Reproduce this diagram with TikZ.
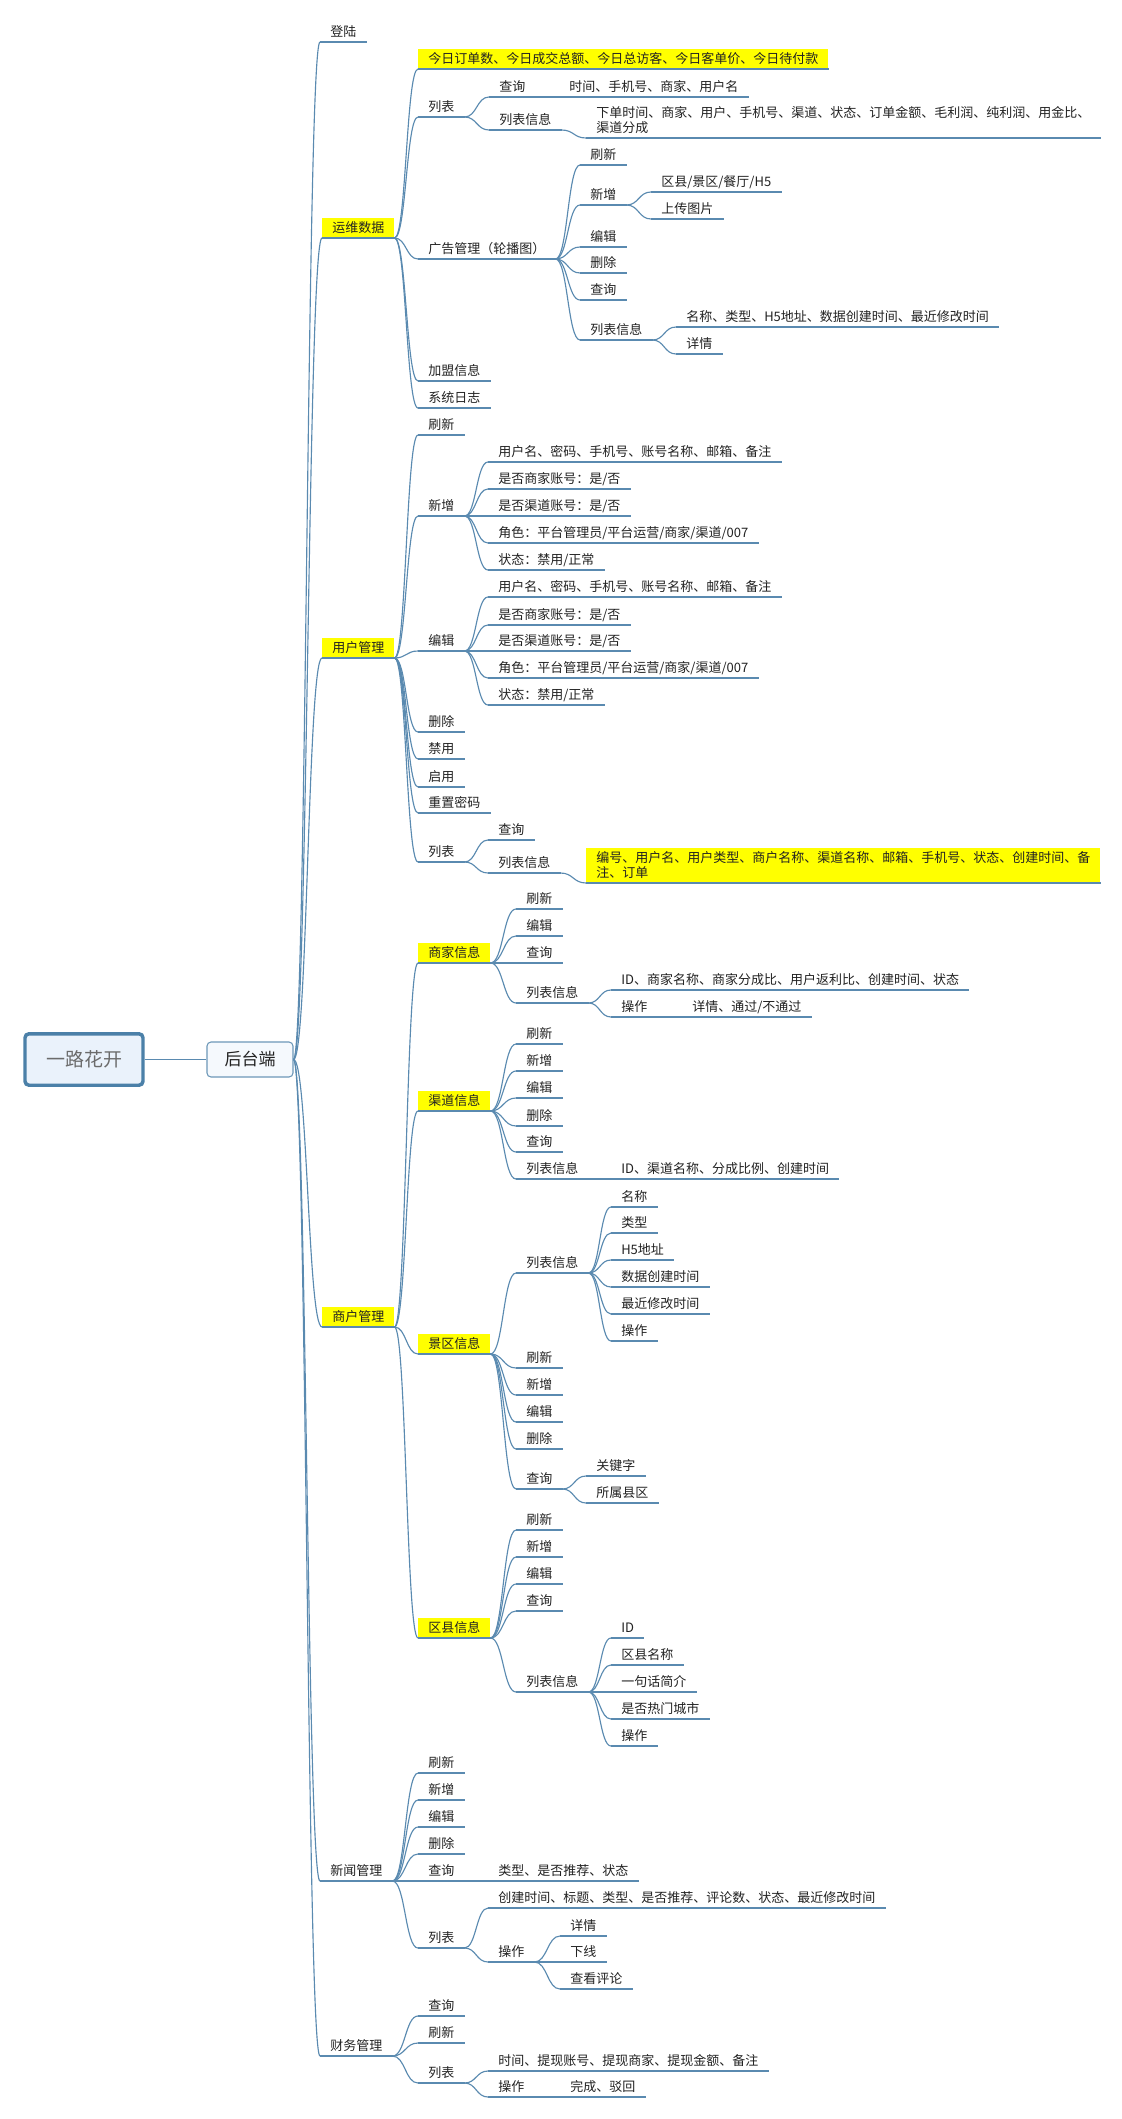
\documentclass[tikz,border=0pt]{standalone}
\usepackage{fontspec}
\newfontfamily\cjkf{Noto Sans CJK SC}
\usetikzlibrary{calc}
\definecolor{lnc}{HTML}{5A8AB0}
\definecolor{rootb}{HTML}{4B80A8}
\definecolor{rootf}{HTML}{EAF2FB}
\definecolor{hb}{HTML}{6D98B8}
\definecolor{hf}{HTML}{F5F9FD}
\definecolor{txc}{HTML}{222222}
\definecolor{rtx}{HTML}{6B6B6B}
\definecolor{ylw}{HTML}{FFFF00}
\tikzset{
  ln/.style={draw=lnc, line width=0.85pt},
  lf/.style={anchor=south west, inner xsep=7.5pt, inner ysep=3pt, text height=7.6pt, text depth=1pt,
    font=\cjkf\fontsize{9.75pt}{11.25pt}\selectfont, text=txc, align=left},
  ml/.style={lf, text height=18.85pt},
  yb/.style={lf, fill=ylw},
  rootn/.style={draw=rootb, line width=2.6pt, fill=rootf, rounded corners=3pt,
    minimum width=88.5pt, minimum height=38.6pt, inner sep=0pt,
    font=\cjkf\fontsize{14.25pt}{16pt}\selectfont, text=rtx},
  hnode/.style={draw=hb, line width=0.8pt, fill=hf, rounded corners=3pt,
    minimum width=64.5pt, minimum height=26.25pt, inner sep=0pt,
    font=\cjkf\fontsize{12.75pt}{14pt}\selectfont, text=txc}
}
\newcommand\mmconn[2]{\draw[ln] let \p1=(#1.south east), \p2=(#2.south west), \p3=($(\p1)!0.5!(\p2)$) in (\p1) .. controls (\x3,\y1) and (\x3,\y2) .. (\p2);}
\newcommand\mmconnE[2]{\draw[ln] let \p1=(#1.east), \p2=(#2.south west), \p3=($(\p1)!0.5!(\p2)$) in (\p1) .. controls (\x3,\y1) and (\x3,\y2) .. (\p2);}
\begin{document}
\begin{tikzpicture}[x=0.75pt,y=-0.75pt]
\useasboundingbox (0,0) rectangle (1121,2119);
\fill[white] (0,0) rectangle (1121,2119);
% root and centre
\node[rootn] (r) at (84,1059.5) {一路花开};
\node[hnode] (ht) at (250,1059.5) {后台端};
\draw[ln] (r.east) -- (ht.west);
% level 1
\node[lf] (dl) at (320,42) {登陆};
\node[yb] (yw) at (322,238) {运维数据};
\node[yb] (yh) at (322,658) {用户管理};
\node[yb] (sh) at (322,1327) {商户管理};
\node[lf] (xw) at (320,1881) {新闻管理};
\node[lf] (cw) at (320,2056) {财务管理};
% 运维数据
\node[yb] (a1) at (418,69) {今日订单数、今日成交总额、今日总访客、今日客单价、今日待付款};
\node[lf] (a2) at (418,117) {列表};
\node[lf] (a21) at (489,97) {查询};
\node[lf] (a211) at (559,97) {时间、手机号、商家、用户名};
\node[lf] (a22) at (489,130) {列表信息};
\node[ml] (a221) at (586,138) {下单时间、商家、用户、手机号、渠道、状态、订单金额、毛利润、纯利润、用金比、\\渠道分成};
\node[lf] (a3) at (418,259) {广告管理（轮播图）};
\node[lf] (a31) at (580,165) {刷新};
\node[lf] (a32) at (580,205) {新增};
\node[lf] (a321) at (651,192) {区县/景区/餐厅/H5};
\node[lf] (a322) at (651,219) {上传图片};
\node[lf] (a33) at (580,247) {编辑};
\node[lf] (a34) at (580,273) {删除};
\node[lf] (a35) at (580,300) {查询};
\node[lf] (a36) at (580,340) {列表信息};
\node[lf] (a361) at (676,327) {名称、类型、H5地址、数据创建时间、最近修改时间};
\node[lf] (a362) at (676,354) {详情};
\node[lf] (a4) at (418,381) {加盟信息};
\node[lf] (a5) at (418,408) {系统日志};
% 用户管理
\node[lf] (b1) at (418,435) {刷新};
\node[lf] (b2) at (418,516) {新增};
\node[lf] (b21) at (488,462) {用户名、密码、手机号、账号名称、邮箱、备注};
\node[lf] (b22) at (488,489) {是否商家账号：是/否};
\node[lf] (b23) at (488,516) {是否渠道账号：是/否};
\node[lf] (b24) at (488,543) {角色：平台管理员/平台运营/商家/渠道/007};
\node[lf] (b25) at (488,570) {状态：禁用/正常};
\node[lf] (b3) at (418,651) {编辑};
\node[lf] (b31) at (488,597) {用户名、密码、手机号、账号名称、邮箱、备注};
\node[lf] (b32) at (488,625) {是否商家账号：是/否};
\node[lf] (b33) at (488,651) {是否渠道账号：是/否};
\node[lf] (b34) at (488,678) {角色：平台管理员/平台运营/商家/渠道/007};
\node[lf] (b35) at (488,705) {状态：禁用/正常};
\node[lf] (b4) at (418,732) {删除};
\node[lf] (b5) at (418,759) {禁用};
\node[lf] (b6) at (418,787) {启用};
\node[lf] (b7) at (418,813) {重置密码};
\node[lf] (b8) at (418,862) {列表};
\node[lf] (b81) at (488,840) {查询};
\node[lf] (b82) at (488,873) {列表信息};
\node[ml, fill=ylw] (b821) at (586,883) {编号、用户名、用户类型、商户名称、渠道名称、邮箱、手机号、状态、创建时间、备\\注、订单};
% 商户管理
\node[yb] (c1) at (418,963) {商家信息};
\node[lf] (c11) at (516,909) {刷新};
\node[lf] (c12) at (516,936) {编辑};
\node[lf] (c13) at (516,963) {查询};
\node[lf] (c14) at (516,1003) {列表信息};
\node[lf] (c141) at (611,990) {ID、商家名称、商家分成比、用户返利比、创建时间、状态};
\node[lf] (c142) at (611,1017) {操作};
\node[lf] (c1421) at (682,1017) {详情、通过/不通过};
\node[yb] (c2) at (418,1111) {渠道信息};
\node[lf] (c21) at (516,1044) {刷新};
\node[lf] (c22) at (516,1071) {新增};
\node[lf] (c23) at (516,1098) {编辑};
\node[lf] (c24) at (516,1126) {删除};
\node[lf] (c25) at (516,1152) {查询};
\node[lf] (c26) at (516,1179) {列表信息};
\node[lf] (c261) at (611,1179) {ID、渠道名称、分成比例、创建时间};
\node[yb] (c3) at (418,1354) {景区信息};
\node[lf] (c31) at (516,1273) {列表信息};
\node[lf] (c311) at (611,1207) {名称};
\node[lf] (c312) at (611,1233) {类型};
\node[lf] (c313) at (611,1260) {H5地址};
\node[lf] (c314) at (611,1287) {数据创建时间};
\node[lf] (c315) at (611,1314) {最近修改时间};
\node[lf] (c316) at (611,1341) {操作};
\node[lf] (c32) at (516,1368) {刷新};
\node[lf] (c33) at (516,1395) {新增};
\node[lf] (c34) at (516,1422) {编辑};
\node[lf] (c35) at (516,1449) {删除};
\node[lf] (c36) at (516,1489) {查询};
\node[lf] (c361) at (586,1476) {关键字};
\node[lf] (c362) at (586,1503) {所属县区};
\node[yb] (c4) at (418,1638) {区县信息};
\node[lf] (c41) at (516,1530) {刷新};
\node[lf] (c42) at (516,1557) {新增};
\node[lf] (c43) at (516,1584) {编辑};
\node[lf] (c44) at (516,1611) {查询};
\node[lf] (c45) at (516,1692) {列表信息};
\node[lf] (c451) at (611,1638) {ID};
\node[lf] (c452) at (611,1665) {区县名称};
\node[lf] (c453) at (611,1692) {一句话简介};
\node[lf] (c454) at (611,1719) {是否热门城市};
\node[lf] (c455) at (611,1746) {操作};
% 新闻管理
\node[lf] (d1) at (418,1773) {刷新};
\node[lf] (d2) at (418,1800) {新增};
\node[lf] (d3) at (418,1827) {编辑};
\node[lf] (d4) at (418,1854) {删除};
\node[lf] (d5) at (418,1881) {查询};
\node[lf] (d51) at (488,1881) {类型、是否推荐、状态};
\node[lf] (d6) at (418,1948) {列表};
\node[lf] (d61) at (488,1908) {创建时间、标题、类型、是否推荐、评论数、状态、最近修改时间};
\node[lf] (d62) at (488,1962) {操作};
\node[lf] (d621) at (560,1936) {详情};
\node[lf] (d622) at (560,1962) {下线};
\node[lf] (d623) at (560,1989) {查看评论};
% 财务管理
\node[lf] (e1) at (418,2016) {查询};
\node[lf] (e2) at (418,2043) {刷新};
\node[lf] (e3) at (418,2083) {列表};
\node[lf] (e31) at (488,2071) {时间、提现账号、提现商家、提现金额、备注};
\node[lf] (e32) at (488,2097) {操作};
\node[lf] (e321) at (560,2097) {完成、驳回};
% underlines
\foreach \nn in {dl,yw,yh,sh,xw,cw,a1,a2,a21,a211,a22,a221,a3,a31,a32,a321,a322,a33,a34,a35,a36,a361,a362,a4,a5,
  b1,b2,b21,b22,b23,b24,b25,b3,b31,b32,b33,b34,b35,b4,b5,b6,b7,b8,b81,b82,b821,
  c1,c11,c12,c13,c14,c141,c142,c1421,c2,c21,c22,c23,c24,c25,c26,c261,c3,c31,c311,c312,c313,c314,c315,c316,c32,c33,c34,c35,c36,c361,c362,
  c4,c41,c42,c43,c44,c45,c451,c452,c453,c454,c455,
  d1,d2,d3,d4,d5,d51,d6,d61,d62,d621,d622,d623,e1,e2,e3,e31,e32,e321}
  \draw[ln] (\nn.south west) -- (\nn.south east);
% connectors
\foreach \ch in {dl,yw,yh,sh,xw,cw} \mmconnE{ht}{\ch};
\foreach \pa/\ch in {yw/a1,yw/a2,yw/a3,yw/a4,yw/a5,a2/a21,a2/a22,a21/a211,a22/a221,
  a3/a31,a3/a32,a3/a33,a3/a34,a3/a35,a3/a36,a32/a321,a32/a322,a36/a361,a36/a362,
  yh/b1,yh/b2,yh/b3,yh/b4,yh/b5,yh/b6,yh/b7,yh/b8,
  b2/b21,b2/b22,b2/b23,b2/b24,b2/b25,b3/b31,b3/b32,b3/b33,b3/b34,b3/b35,b8/b81,b8/b82,b82/b821,
  sh/c1,sh/c2,sh/c3,sh/c4,c1/c11,c1/c12,c1/c13,c1/c14,c14/c141,c14/c142,c142/c1421,
  c2/c21,c2/c22,c2/c23,c2/c24,c2/c25,c2/c26,c26/c261,
  c3/c31,c3/c32,c3/c33,c3/c34,c3/c35,c3/c36,c31/c311,c31/c312,c31/c313,c31/c314,c31/c315,c31/c316,c36/c361,c36/c362,
  c4/c41,c4/c42,c4/c43,c4/c44,c4/c45,c45/c451,c45/c452,c45/c453,c45/c454,c45/c455,
  xw/d1,xw/d2,xw/d3,xw/d4,xw/d5,xw/d6,d5/d51,d6/d61,d6/d62,d62/d621,d62/d622,d62/d623,
  cw/e1,cw/e2,cw/e3,e3/e31,e3/e32,e32/e321}
  \mmconn{\pa}{\ch};
\end{tikzpicture}
\end{document}
